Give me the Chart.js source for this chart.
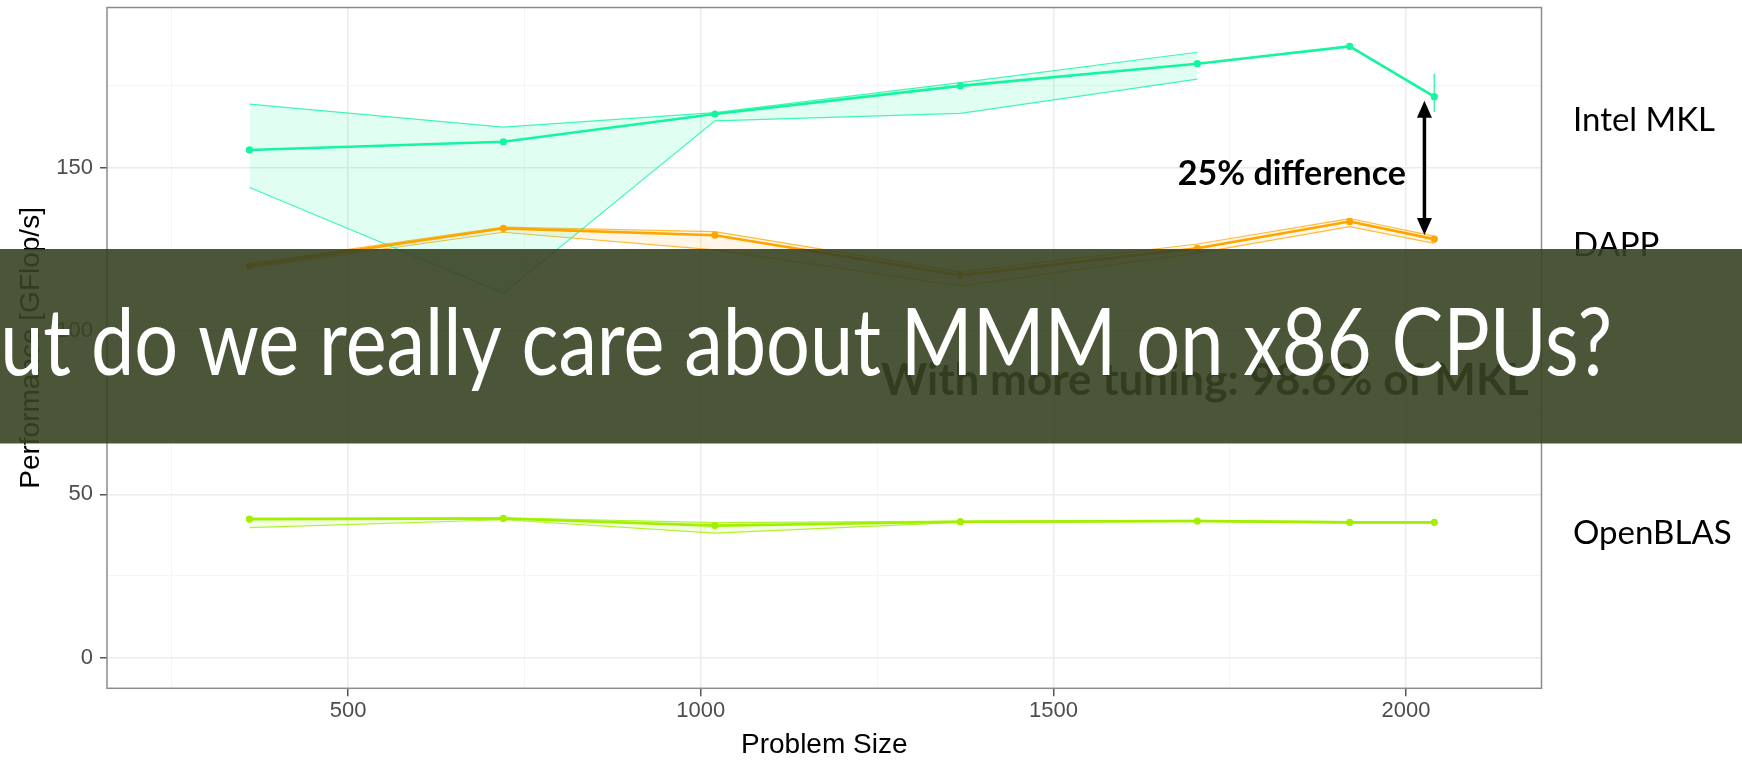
<!DOCTYPE html>
<html><head><meta charset="utf-8">
<script src="https://cdn.jsdelivr.net/npm/chart.js@4.4.1/dist/chart.umd.min.js"></script>
<style>html,body{margin:0;padding:0;background:#fff;overflow:hidden}canvas{display:block}</style>
</head><body>
<canvas id="c" width="1742" height="760"></canvas>
<script>
// ---- data ----
const problemSizes = [360, 720, 1020, 1368, 1704, 1920, 2040];
const mklMean  = [155.4, 157.9, 166.4, 175.0, 181.8, 187.1, 171.7];
const mklHigh  = [169.4, 162.4, 166.8, 176.0, 185.3, null, 178.7];
const mklLow   = [143.9, 111.5, 164.3, 166.6, 177.1, null, 167.0];
const dappMean = [119.9, 131.4, 129.3, 117.0, 125.3, 133.5, 128.1];
const dappHigh = [120.6, 131.8, 130.4, 118.1, 126.6, 134.4, 129.0];
const dappLow  = [119.3, 130.2, 124.8, 113.7, 123.8, 131.9, 126.8];
const blasMean = [42.4, 42.6, 40.4, 41.6, 41.8, 41.4, 41.4];
const blasHigh = [42.6, 42.8, 41.3, 41.8, 42.0, 41.6, 41.6];
const blasLow  = [39.8, 42.2, 38.1, 41.4, 41.6, 41.2, 41.2];
const xMajorTicks = [500, 1000, 1500, 2000];
const xMinorTicks = [250, 750, 1250, 1750];
const yMajorTicks = [0, 50, 100, 150];
const yMinorTicks = [25, 75, 125, 175];
const seriesNames = ['Intel MKL', 'DAPP', 'OpenBLAS'];
const seriesLabelValues = [164.5, 126.2, 38.1];
const xTitle = 'Problem Size';
const yTitle = 'Performance [GFlop/s]';
const diffText = '25% difference';
const tuningText = 'With more tuning: 98.6% of MKL';
const slideTitle = 'But do we really care about MMM on x86 CPUs?';

const colors = ['#14F5A0', '#FFA500', '#A0F000'];
const fills = ['rgba(20,245,160,0.13)', 'rgba(255,165,0,0.10)', 'rgba(160,240,0,0.12)'];
const edges = ['rgba(20,245,160,0.8)', 'rgba(255,165,0,0.75)', 'rgba(160,240,0,0.8)'];

const pts = arr => problemSizes.map((x, i) => ({x: x, y: arr[i]}));

const means = [mklMean, dappMean, blasMean];
const highs = [mklHigh, dappHigh, blasHigh];
const lows  = [mklLow, dappLow, blasLow];

const datasets = [];
means.forEach((m, k) => {
  datasets.push({label: seriesNames[k], data: pts(m), borderColor: colors[k], backgroundColor: colors[k],
    borderWidth: 2.6, pointRadius: 3.6, pointBorderWidth: 0, pointBackgroundColor: colors[k], fill: false, order: 0, tension: 0});
});
// isolated ribbon points -> vertical range lines
highs.forEach((h, k) => {
  const l = lows[k];
  h.forEach((v, i) => {
    if (v !== null && (i === 0 || h[i-1] === null) && (i === h.length-1 || h[i+1] === null)) {
      datasets.push({label: seriesNames[k] + ' range', data: [{x: problemSizes[i], y: v}, {x: problemSizes[i], y: l[i]}],
        borderColor: edges[k], borderWidth: 1.5, pointRadius: 0, fill: false, order: 0});
    }
  });
});
highs.forEach((h, k) => {
  datasets.push({label: seriesNames[k] + ' high', data: pts(h), borderColor: edges[k], borderWidth: 1.2,
    pointRadius: 0, backgroundColor: fills[k], fill: '+1', spanGaps: false, order: 1, tension: 0});
  datasets.push({label: seriesNames[k] + ' low', data: pts(lows[k]), borderColor: edges[k], borderWidth: 1.2,
    pointRadius: 0, fill: false, spanGaps: false, order: 1, tension: 0});
});

const isMajor = (v, arr) => arr.indexOf(v) >= 0;

const decor = {
  id: 'decor',
  afterDatasetsDraw(chart) {
    const {ctx, chartArea: a, scales: {x, y}} = chart;
    ctx.save();
    // panel border
    ctx.strokeStyle = '#8c8c8c';
    ctx.lineWidth = 1.5;
    ctx.strokeRect(a.left, a.top, a.right - a.left, a.bottom - a.top);
    // series labels on the right
    ctx.fillStyle = '#000';
    ctx.font = '33px Lato';
    ctx.textBaseline = 'middle';
    ctx.textAlign = 'left';
    seriesNames.forEach((n, k) => ctx.fillText(n, 1573, y.getPixelForValue(seriesLabelValues[k])));
    // arrow between last MKL and last DAPP points
    const last = problemSizes.length - 1;
    const ax = x.getPixelForValue(2026);
    const y1 = y.getPixelForValue(mklMean[last]) + 4;
    const y2 = y.getPixelForValue(dappMean[last]) - 4;
    ctx.strokeStyle = '#000'; ctx.fillStyle = '#000'; ctx.lineWidth = 3.5;
    ctx.beginPath(); ctx.moveTo(ax, y1 + 14); ctx.lineTo(ax, y2 - 14); ctx.stroke();
    ctx.beginPath(); ctx.moveTo(ax, y1); ctx.lineTo(ax - 7.5, y1 + 17); ctx.lineTo(ax + 7.5, y1 + 17); ctx.closePath(); ctx.fill();
    ctx.beginPath(); ctx.moveTo(ax, y2); ctx.lineTo(ax - 7.5, y2 - 17); ctx.lineTo(ax + 7.5, y2 - 17); ctx.closePath(); ctx.fill();
    // annotation texts
    ctx.font = 'bold 34px Lato';
    ctx.textAlign = 'right';
    ctx.fillText(diffText, 1406, 174);
    ctx.textAlign = 'left';
    ctx.font = 'bold 44px Lato';
    ctx.fillText(tuningText, 881, 381);
    ctx.restore();
  },
  afterDraw(chart) {
    const ctx = chart.ctx;
    ctx.save();
    ctx.fillStyle = 'rgba(55,67,34,0.9)';
    ctx.fillRect(0, 249, chart.width, 194.5);
    ctx.fillStyle = '#fff';
    ctx.font = '94px Lato';
    ctx.textBaseline = 'alphabetic';
    ctx.textAlign = 'left';
    const rest = slideTitle.slice(1);
    const wRest = ctx.measureText(rest).width;
    const wB = ctx.measureText(slideTitle.slice(0, 1)).width;
    const sx = 1612 / wRest;
    ctx.translate(1, 375);
    ctx.scale(sx, 1);
    ctx.fillText(slideTitle, -wB, 0);
    ctx.restore();
  }
};

const tickFont = {family: 'Liberation Sans', size: 22, lineHeight: 1};
const titleFont = {family: 'Liberation Sans', size: 28, lineHeight: 1};

new Chart(document.getElementById('c'), {
  type: 'line',
  data: {datasets: datasets},
  options: {
    responsive: false, animation: false, devicePixelRatio: 1,
    layout: {padding: {top: 7.5, right: 200.5, left: 0, bottom: 0}},
    plugins: {legend: {display: false}, tooltip: {enabled: false}, title: {display: false}},
    scales: {
      x: {
        type: 'linear', min: 158, max: 2192,
        afterBuildTicks: s => { s.ticks = xMinorTicks.concat(xMajorTicks).sort((a, b) => a - b).map(v => ({value: v})); },
        afterFit: s => { s.height = 71.7; s.paddingLeft = 0; s.paddingRight = 0; s.paddingTop = 0; s.paddingBottom = 0; },
        ticks: {autoSkip: false, maxRotation: 0, color: '#4d4d4d', font: tickFont, padding: 4,
          callback: v => isMajor(v, xMajorTicks) ? String(v) : ''},
        grid: {
          color: c => isMajor(c.tick.value, xMajorTicks) ? '#ebebeb' : '#f5f5f5',
          lineWidth: c => isMajor(c.tick.value, xMajorTicks) ? 1.5 : 1,
          tickColor: c => isMajor(c.tick.value, xMajorTicks) ? '#555' : 'rgba(0,0,0,0)',
          tickLength: 8, tickWidth: 1.5
        },
        border: {display: false},
        title: {display: true, text: xTitle, color: '#000', font: titleFont, padding: {top: 0, bottom: 1}}
      },
      y: {
        type: 'linear', min: -9.4, max: 199,
        afterBuildTicks: s => { s.ticks = yMinorTicks.concat(yMajorTicks).sort((a, b) => a - b).map(v => ({value: v})); },
        afterFit: s => { s.width = 107; s.paddingTop = 0; s.paddingBottom = 0; s.paddingLeft = 0; s.paddingRight = 0; },
        ticks: {autoSkip: false, color: '#4d4d4d', font: tickFont, padding: 7,
          callback: v => isMajor(v, yMajorTicks) ? String(v) : ''},
        grid: {
          color: c => isMajor(c.tick.value, yMajorTicks) ? '#ebebeb' : '#f5f5f5',
          lineWidth: c => isMajor(c.tick.value, yMajorTicks) ? 1.5 : 1,
          tickColor: c => isMajor(c.tick.value, yMajorTicks) ? '#555' : 'rgba(0,0,0,0)',
          tickLength: 7, tickWidth: 1.5
        },
        border: {display: false},
        title: {display: true, text: yTitle, color: '#000', font: titleFont, padding: {top: 17, bottom: 0}}
      }
    }
  },
  plugins: [decor]
});
</script>
</body></html>
